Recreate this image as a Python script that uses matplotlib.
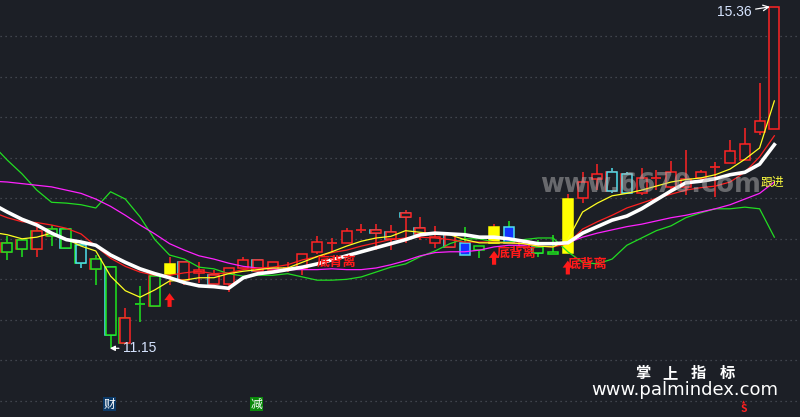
import numpy as np
import matplotlib.pyplot as plt
from matplotlib.patches import Rectangle

plt.rcParams['font.family'] = ['Noto Sans CJK SC', 'DejaVu Sans']

# daily candles (index 0 = first visible bar)
opens  = [12.45, 12.49, 12.37, 12.62, 12.62, 12.42, 12.25, 12.15, 11.22, 11.69,
          11.67, 12.07, 11.99, 12.08, 11.94, 11.94, 12.14, 12.10, 12.12, 12.13,
          12.14, 12.34, 12.44, 12.45, 12.60, 12.57, 12.50, 12.77, 12.56, 12.45,
          12.40, 12.45, 12.41, 12.45, 12.65, 12.40, 12.40, 12.34, 12.33, 13.00,
          13.24, 13.09, 13.30, 13.07, 13.24, 13.14, 13.14, 13.25, 13.37, 13.43,
          13.47, 13.82, 13.85]
highs  = [12.54, 12.49, 12.65, 12.67, 12.63, 12.42, 12.30, 12.15, 11.65, 11.92,
          12.04, 12.28, 12.21, 12.21, 12.12, 12.14, 12.28, 12.24, 12.21, 12.21,
          12.31, 12.54, 12.51, 12.63, 12.68, 12.68, 12.67, 12.86, 12.77, 12.66,
          12.56, 12.65, 12.41, 12.68, 12.72, 12.50, 12.48, 12.55, 13.05, 13.32,
          13.42, 13.37, 13.32, 13.37, 13.35, 13.46, 13.60, 13.35, 13.45, 13.72,
          13.87, 14.42, 15.36]
lows   = [12.24, 12.28, 12.28, 12.41, 12.39, 12.14, 11.93, 11.15, 11.21, 11.47,
          11.67, 11.93, 11.93, 11.96, 11.89, 11.84, 12.14, 12.10, 12.12, 12.09,
          12.05, 12.31, 12.33, 12.45, 12.57, 12.36, 12.36, 12.45, 12.49, 12.39,
          12.40, 12.30, 12.26, 12.45, 12.45, 12.38, 12.28, 12.31, 12.33, 12.94,
          13.10, 13.07, 13.07, 13.04, 13.10, 13.08, 13.04, 13.23, 13.02, 13.43,
          13.47, 13.78, 13.85]
closes = [12.34, 12.37, 12.60, 12.54, 12.39, 12.20, 12.13, 11.31, 11.52, 11.68,
          12.04, 12.19, 12.21, 12.12, 12.05, 12.14, 12.24, 12.24, 12.21, 12.14,
          12.31, 12.46, 12.45, 12.60, 12.61, 12.61, 12.58, 12.82, 12.63, 12.52,
          12.56, 12.30, 12.36, 12.65, 12.45, 12.47, 12.33, 12.31, 12.99, 13.20,
          13.30, 13.32, 13.07, 13.25, 13.25, 13.32, 13.24, 13.32, 13.38, 13.58,
          13.67, 13.95, 15.36]
# outline colours per bar: first = main, second = shadow edge; Y = yellow bar, B = blue bar
kinds = ['gr', 'gr', 'rg', 'gr', 'gc', 'cg', 'gr', 'gc', 'rg', 'g',
         'gr', 'Y', 'rc', 'r', 'rc', 'r', 'r', 'rc', 'r', 'r',
         'r', 'r', 'r', 'r', 'r', 'rc', 'rc', 'rc', 'rc', 'r',
         'rc', 'B', 'g', 'Y', 'B', 'r', 'gc', 'g', 'Y', 'r',
         'r', 'cr', 'cr', 'r', 'rc', 'r', 'r', 'r', 'r', 'r',
         'r', 'r', 'r']

# indicator lines, one value per bar starting one bar left of the screen
ma_white = [12.93, 12.83, 12.74, 12.67, 12.57, 12.49, 12.46, 12.42, 12.30, 12.21,
            12.13, 12.07, 12.02, 11.96, 11.92, 11.91, 11.89, 12.02, 12.07, 12.09,
            12.12, 12.15, 12.19, 12.24, 12.29, 12.34, 12.39, 12.44, 12.49, 12.55,
            12.57, 12.56, 12.55, 12.52, 12.52, 12.50, 12.47, 12.44, 12.44, 12.45,
            12.57, 12.65, 12.73, 12.78, 12.87, 12.98, 13.09, 13.19, 13.21, 13.24,
            13.29, 13.32, 13.42, 13.66]
ma_yellow = [12.58, 12.55, 12.50, 12.52, 12.57, 12.50, 12.41, 12.35, 12.04, 11.86,
             11.78, 11.87, 11.98, 11.99, 12.02, 12.02, 12.07, 12.10, 12.12, 12.14,
             12.14, 12.21, 12.28, 12.34, 12.41, 12.47, 12.51, 12.53, 12.60, 12.58,
             12.56, 12.55, 12.49, 12.45, 12.45, 12.45, 12.44, 12.41, 12.40, 12.49,
             12.83, 12.94, 13.03, 13.06, 13.10, 13.15, 13.20, 13.23, 13.25, 13.29,
             13.36, 13.48, 13.62, 14.20]
ma_red = [12.83, 12.76, 12.71, 12.70, 12.67, 12.63, 12.56, 12.41, 12.26, 12.16,
          12.09, 12.05, 12.05, 12.08, 12.10, 12.07, 12.08, 12.12, 12.14, 12.15,
          12.18, 12.24, 12.28, 12.33, 12.36, 12.41, 12.45, 12.49, 12.51, 12.52,
          12.51, 12.49, 12.46, 12.46, 12.46, 12.45, 12.44, 12.41, 12.40, 12.44,
          12.62, 12.71, 12.79, 12.88, 12.94, 13.00, 13.05, 13.10, 13.13, 13.15,
          13.20, 13.32, 13.51, 13.77]
ma_magenta = [13.21, 13.20, 13.18, 13.16, 13.14, 13.10, 13.06, 12.99, 12.90, 12.79,
              12.67, 12.56, 12.44, 12.36, 12.29, 12.25, 12.20, 12.16, 12.14, 12.13,
              12.12, 12.12, 12.12, 12.13, 12.12, 12.12, 12.14, 12.18, 12.23, 12.29,
              12.33, 12.34, 12.34, 12.36, 12.40, 12.42, 12.42, 12.44, 12.44, 12.45,
              12.52, 12.57, 12.61, 12.65, 12.68, 12.72, 12.76, 12.79, 12.83, 12.87,
              12.92, 12.99, 13.06, 13.20]
ma_green = [13.66, 13.47, 13.30, 13.10, 12.95, 12.94, 12.92, 12.88, 13.08, 12.99,
            12.77, 12.49, 12.30, 12.25, 12.15, 12.13, 12.07, 12.04, 12.05, 12.05,
            12.07, 12.03, 11.99, 11.99, 12.00, 12.03, 12.09, 12.15, 12.19, 12.28,
            12.35, 12.44, 12.50, 12.50, 12.46, 12.46, 12.49, 12.51, 12.51, 12.34,
            12.21, 12.19, 12.25, 12.42, 12.51, 12.60, 12.66, 12.76, 12.82, 12.87,
            12.87, 12.89, 12.87, 12.52]

arrow_bars = [11, 33, 38]          # red up arrows
diverge_labels = [(21.0, 12.22), (33.2, 12.325), (38.0, 12.19)]  # 底背离
hi_price, lo_price = 15.36, 11.15
marks = [(7, '财', 'white', '#0c3a68'), (17, '减', 'white', '#0a8a0a')]
sell_bar = 50

BG = '#1c1f26'
COL = {'r': '#ff2424', 'g': '#1ee61e', 'c': '#4fe0ee', 'y': '#ffff00', 'b': '#1232ff'}

fig = plt.figure(figsize=(8, 4.17), dpi=100, facecolor=BG)
ax = fig.add_axes([0, 0, 1, 1])
ax.set_facecolor(BG)
ax.set_xlim(-0.495, 53.74)
ax.set_ylim(10.303, 15.444)
ax.axis('off')

for p in np.arange(10.5, 15.01, 0.5):
    ax.axhline(p, color='#4c515a', lw=0.9, ls=(0, (1, 3)), zorder=0)

w, dx = 0.34, 0.07
for i, (o, h, l, c, k) in enumerate(zip(opens, highs, lows, closes, kinds)):
    top, bot = max(o, c), min(o, c)
    if k == 'Y':
        edge, face, wick, edge2 = COL['y'], COL['y'], COL['r'], None
    elif k == 'B':
        edge, face, wick, edge2 = COL['c'], COL['b'], COL['g'], None
    else:
        edge, face, wick = COL[k[0]], BG, COL[k[0]]
        edge2 = COL[k[1]] if len(k) > 1 else None
    ax.vlines(i, top, h, color=wick, lw=1.1, zorder=2)
    ax.vlines(i, l, bot, color=wick, lw=1.1, zorder=2)
    if top - bot < 0.02:
        ax.hlines(top, i - w, i + w, color=edge, lw=1.2, zorder=2)
        continue
    if edge2:
        ax.add_patch(Rectangle((i - w - dx, bot), 2 * w, top - bot, fill=False,
                               ec=edge2, lw=1.1, zorder=2))
    ax.add_patch(Rectangle((i - w, bot), 2 * w, top - bot, fc=face, ec=edge,
                           lw=1.1, zorder=3))

xs = np.arange(-1, len(opens))
ax.plot(xs, ma_green, color='#22dd22', lw=0.9, zorder=4)
ax.plot(xs, ma_magenta, color='#ff22ff', lw=0.9, zorder=4)
ax.plot(xs, ma_red, color='#ff2020', lw=0.9, zorder=4)
ax.plot(xs, ma_yellow, color='#ffff22', lw=0.9, zorder=4)
ax.plot(xs, ma_white, color='white', lw=2.6, zorder=5)

for b in arrow_bars:
    ax.annotate('', xy=(b, lows[b] - 0.10), xytext=(b, lows[b] - 0.27),
                arrowprops=dict(arrowstyle='simple,head_length=0.5,head_width=0.75,tail_width=0.3',
                                color='#ff1a1a', lw=0, shrinkA=0, shrinkB=0), zorder=7)

for x, y in diverge_labels:
    ax.text(x, y, '底背离', color='#ff1a1a', fontsize=9.5, fontweight='bold',
            ha='left', va='center', zorder=7)

ax.text(51.84, 13.19, '跟进', color='#ffff40', fontsize=8.5, ha='center', va='center', zorder=7)

lab = dict(color='#d6e4ff', fontsize=10, family=['Liberation Sans', 'DejaVu Sans'])
ax.annotate('15.36', xy=(51.7, hi_price), xytext=(50.45, 15.29), ha='right', va='center',
            arrowprops=dict(arrowstyle='->', color='white', lw=0.9, shrinkA=1, shrinkB=0),
            zorder=8, **lab)
ax.annotate('11.15', xy=(6.95, lo_price), xytext=(7.85, lo_price), ha='left', va='center',
            arrowprops=dict(arrowstyle='-|>,head_length=0.3,head_width=0.15', color='white',
                            lw=0.9, shrinkA=1, shrinkB=0),
            zorder=8, **lab)

# watermarks
fig.text(651 / 800, 1 - 185 / 417, 'www.6670.com', color='#b4b4b4', alpha=0.5,
         fontsize=18.5, fontweight='bold', family='DejaVu Sans', ha='center', va='center', zorder=9)
for cx, ch in zip([643, 670, 698, 727], '掌上指标'):
    fig.text(cx / 800, 1 - 373 / 417, ch, color='white', fontsize=11,
             fontweight='bold', ha='center', va='center')
fig.text(685 / 800, 1 - 390 / 417, 'www.palmindex.com', color='white', fontsize=13,
         family='DejaVu Sans', ha='center', va='center')

for b, t, fc, bc in marks:
    ax.text(b - 0.1, 0.015, t, transform=ax.get_xaxis_transform(), color=fc, fontsize=8.5,
            ha='center', va='bottom', bbox=dict(boxstyle='square,pad=0.05', fc=bc, ec='none'))
ax.text(sell_bar - 0.1, 0.006, 'S', transform=ax.get_xaxis_transform(), color='#ff2020',
        fontsize=7.5, fontweight='bold', ha='center', va='bottom')
ax.text(sell_bar - 0.1, 0.03, '▲', transform=ax.get_xaxis_transform(), color='#ff2020',
        fontsize=3, family='DejaVu Sans', ha='center', va='bottom')

fig.savefig('out.png', dpi=100, facecolor=BG)
